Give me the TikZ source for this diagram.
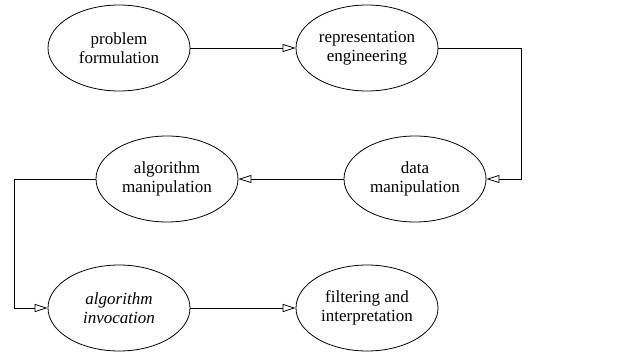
\documentclass[tikz,border=0pt]{standalone}
\usepackage{fontspec}
\setmainfont{Liberation Serif}
\usetikzlibrary{shapes.geometric,arrows.meta}

\begin{document}
\begin{tikzpicture}[x=1pt,y=-1pt,
    stage/.style={ellipse,draw,line width=0.8pt,minimum width=142pt,minimum height=86pt,
      inner sep=0pt,align=center,font=\fontsize{17}{19.5}\selectfont},
    flow/.style={line width=0.8pt,-{Triangle[open,length=13pt,width=8pt]}}]
      \useasboundingbox (0,0) rectangle (637,356);
      \node[stage] (pf) at (119,48) {problem\\formulation};
      \node[stage] (re) at (367,48) {representation\\engineering};
      \node[stage] (dm) at (415,179) {data\\manipulation};
      \node[stage] (am) at (167,179) {algorithm\\manipulation};
      \node[stage] (ai) at (119,308) {\itshape algorithm\\\itshape invocation};
      \node[stage] (fi) at (367,308) {filtering and\\interpretation};
      \coordinate (r) at (521,48); \coordinate (l) at (14,179);
      \draw[flow] (pf) -- (re);
      \draw[flow] (re) -- (r) |- (dm);
      \draw[flow] (dm) -- (am);
      \draw[flow] (am) -- (l) |- (ai);
      \draw[flow] (ai) -- (fi);
    \end{tikzpicture}
\end{document}
